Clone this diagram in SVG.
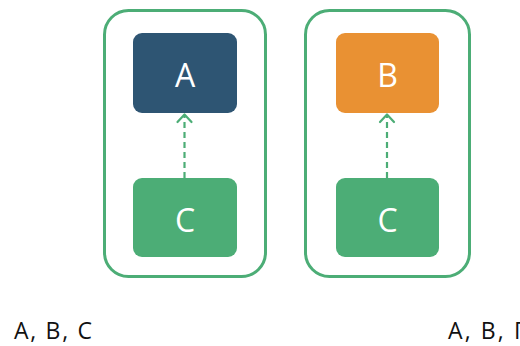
<svg xmlns="http://www.w3.org/2000/svg" width="520" height="346" viewBox="0 0 520 346">
<style>
.frame{fill:#fff;stroke:#4CAD76;stroke-width:3}
.box{stroke:none}
.lbl{font-family:"Open Sans","Noto Sans",sans-serif;font-size:32px;fill:#fff;text-anchor:middle}
.cap{font-family:"Open Sans","Noto Sans",sans-serif;font-size:23px;fill:#111}
.dep{stroke:#4CAD76;stroke-width:2.2;stroke-dasharray:6,4;fill:none}
.head{stroke:#4CAD76;stroke-width:2.2;fill:none;stroke-linecap:round;stroke-linejoin:round}
</style>
<rect width="520" height="346" fill="#fff"/>
<g id="group-left">
<rect class="frame" x="104.5" y="10.5" width="161" height="266" rx="24"/>
</g>
<g id="group-right">
<rect class="frame" x="305.5" y="10.5" width="164" height="266" rx="24"/>
</g>
<g id="node-A">
<rect class="box" x="133" y="33" width="104" height="80" rx="9" fill="#2E5573"/>
<text class="lbl" x="185" y="87">A</text>
</g>
<g id="node-C1">
<rect class="box" x="133" y="178" width="104" height="79" rx="9" fill="#4CAD76"/>
<text class="lbl" x="185" y="232">C</text>
</g>
<g id="node-B">
<rect class="box" x="336" y="33" width="103" height="80" rx="9" fill="#E99133"/>
<text class="lbl" x="387.5" y="87">B</text>
</g>
<g id="node-C2">
<rect class="box" x="336" y="178" width="103" height="79" rx="9" fill="#4CAD76"/>
<text class="lbl" x="387.5" y="232">C</text>
</g>
<g id="connectors">
<line class="dep" x1="184.5" y1="178" x2="184.5" y2="116"/>
<polyline class="head" points="177.5,122 184.5,114.5 191.5,122"/>
<line class="dep" x1="387" y1="178" x2="387" y2="116"/>
<polyline class="head" points="380,122 387,114.5 394,122"/>
</g>
<text class="cap" x="14" y="339" textLength="78" lengthAdjust="spacing">A, B, C</text>
<text class="cap" x="448" y="339" textLength="78" lengthAdjust="spacing">A, B, Γ</text>
</svg>
